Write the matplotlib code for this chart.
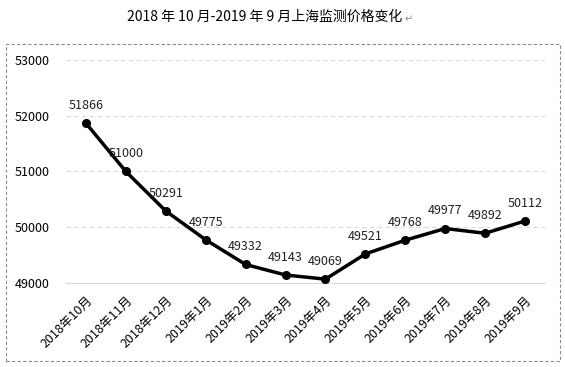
import matplotlib
matplotlib.use("Agg")
import matplotlib.pyplot as plt
from matplotlib.patches import Rectangle

plt.rcParams['font.family'] = ['Noto Sans CJK SC', 'DejaVu Sans']

months = ["2018年10月", "2018年11月", "2018年12月", "2019年1月", "2019年2月", "2019年3月",
          "2019年4月", "2019年5月", "2019年6月", "2019年7月", "2019年8月", "2019年9月"]
prices = [51866, 51000, 50291, 49775, 49332, 49143, 49069, 49521, 49768, 49977, 49892, 50112]
yticks = [49000, 50000, 51000, 52000, 53000]

fig = plt.figure(figsize=(5.65, 3.67), dpi=100)
ax = fig.add_axes([0.1168, 0.2289, 0.9646 - 0.1168, 0.8365 - 0.2289])

x = list(range(len(months)))
ax.plot(x, prices, color="black", lw=2.5, marker="o", ms=5.5, zorder=3)

for xi, v in zip(x, prices):
    ax.annotate(str(v), (xi, v), xytext=(0, 8), textcoords="offset points",
                ha="center", va="bottom", fontsize=9, color="#222222")

ax.set_xlim(-0.5, len(months) - 0.5)
ax.set_ylim(49000, 53000)
ax.set_yticks(yticks)
ax.set_yticklabels([str(t) for t in yticks], fontsize=9, ha="left")
ax.tick_params(axis="y", length=0, pad=37)
ax.set_xticks(x)
ax.set_xticklabels(months, rotation=45, ha="right", rotation_mode="anchor", fontsize=9)
ax.tick_params(axis="x", length=0, pad=8)

ax.yaxis.grid(True, ls=(0, (4, 3)), color="#d9d9d9", lw=0.8)
for s in ["top", "right", "left"]:
    ax.spines[s].set_visible(False)
ax.spines["bottom"].set_color("#d9d9d9")

fig.text(265 / 565, 1 - 17 / 367, "2018 年 10 月-2019 年 9 月上海监测价格变化",
         ha="center", va="center", fontsize=10)
fig.text(405 / 565, 1 - 19 / 367, "↵", ha="left", va="center", fontsize=7,
         color="#888888", family=["DejaVu Sans"])

fig.patches.append(Rectangle((6 / 565, 1 - 361 / 367), 554 / 565, (361 - 44) / 367,
                             transform=fig.transFigure, fill=False, ls=(0, (3, 2)),
                             ec="#8c8c8c", lw=0.8))

fig.savefig("out.png", dpi=100)
